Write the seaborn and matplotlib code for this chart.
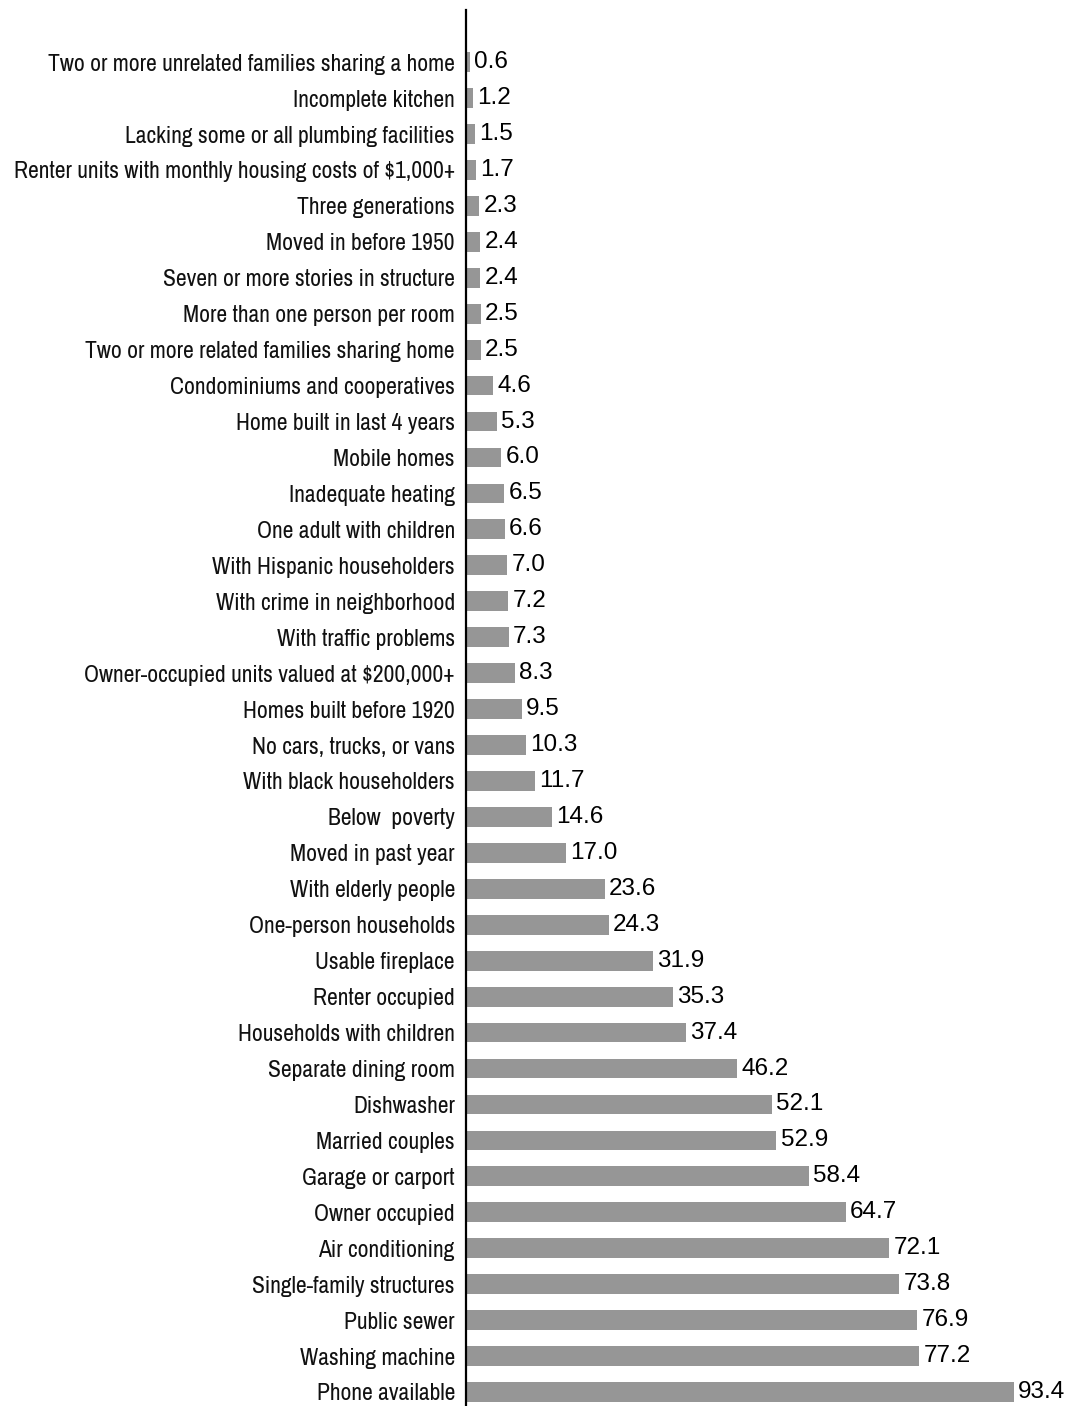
import matplotlib
matplotlib.use("Agg")
import matplotlib.pyplot as plt
from matplotlib import font_manager
import seaborn as sns
import pandas as pd

# characteristics of housing units (percent), top to bottom as in the chart
categories = [
    "Two or more unrelated families sharing a home",
    "Incomplete kitchen",
    "Lacking some or all plumbing facilities",
    "Renter units with monthly housing costs of $1,000+",
    "Three generations",
    "Moved in before 1950",
    "Seven or more stories in structure",
    "More than one person per room",
    "Two or more related families sharing home",
    "Condominiums and cooperatives",
    "Home built in last 4 years",
    "Mobile homes",
    "Inadequate heating",
    "One adult with children",
    "With Hispanic householders",
    "With crime in neighborhood",
    "With traffic problems",
    "Owner-occupied units valued at $200,000+",
    "Homes built before 1920",
    "No cars, trucks, or vans",
    "With black householders",
    "Below  poverty",
    "Moved in past year",
    "With elderly people",
    "One-person households",
    "Usable fireplace",
    "Renter occupied",
    "Households with children",
    "Separate dining room",
    "Dishwasher",
    "Married couples",
    "Garage or carport",
    "Owner occupied",
    "Air conditioning",
    "Single-family structures",
    "Public sewer",
    "Washing machine",
    "Phone available",
]
values = [0.6, 1.2, 1.5, 1.7, 2.3, 2.4, 2.4, 2.5, 2.5, 4.6, 5.3, 6.0, 6.5, 6.6,
          7.0, 7.2, 7.3, 8.3, 9.5, 10.3, 11.7, 14.6, 17.0, 23.6, 24.3, 31.9,
          35.3, 37.4, 46.2, 52.1, 52.9, 58.4, 64.7, 72.1, 73.8, 76.9, 77.2, 93.4]

df = pd.DataFrame({"label": categories, "pct": values})

# narrow font for the category labels (Arial Narrow look-alike)
names = {f.name for f in font_manager.fontManager.ttflist}
label_font = "Archivo Narrow" if "Archivo Narrow" in names else "Liberation Sans"

fig = plt.figure(figsize=(10.83, 14.06), dpi=100)
ax = fig.add_axes([466 / 1083, 0.0, 584 / 1083, 1396 / 1406])

sns.barplot(data=df, y="label", x="pct", orient="h", color="#969696",
            saturation=1, width=0.55, ax=ax)

ax.bar_label(ax.containers[0], fmt="%.1f", padding=3, fontsize=17.5,
             fontfamily="Liberation Sans", color="black")

ax.set_xlim(0, 99.5)
ax.set_ylim(len(values) - 1 + 0.39, -1.45)
ax.set_xlabel("")
ax.set_ylabel("")
ax.set_xticks([])
ax.tick_params(axis="y", length=0, pad=8)
for t in ax.get_yticklabels():
    t.set_fontfamily(label_font)
    t.set_fontsize(17 if label_font == "Archivo Narrow" else 14.5)
    t.set_color("#111111")
for s in ["top", "right", "bottom"]:
    ax.spines[s].set_visible(False)
ax.spines["left"].set_linewidth(1.6)
ax.spines["left"].set_color("black")

fig.savefig("out.png", dpi=100, facecolor="white")
